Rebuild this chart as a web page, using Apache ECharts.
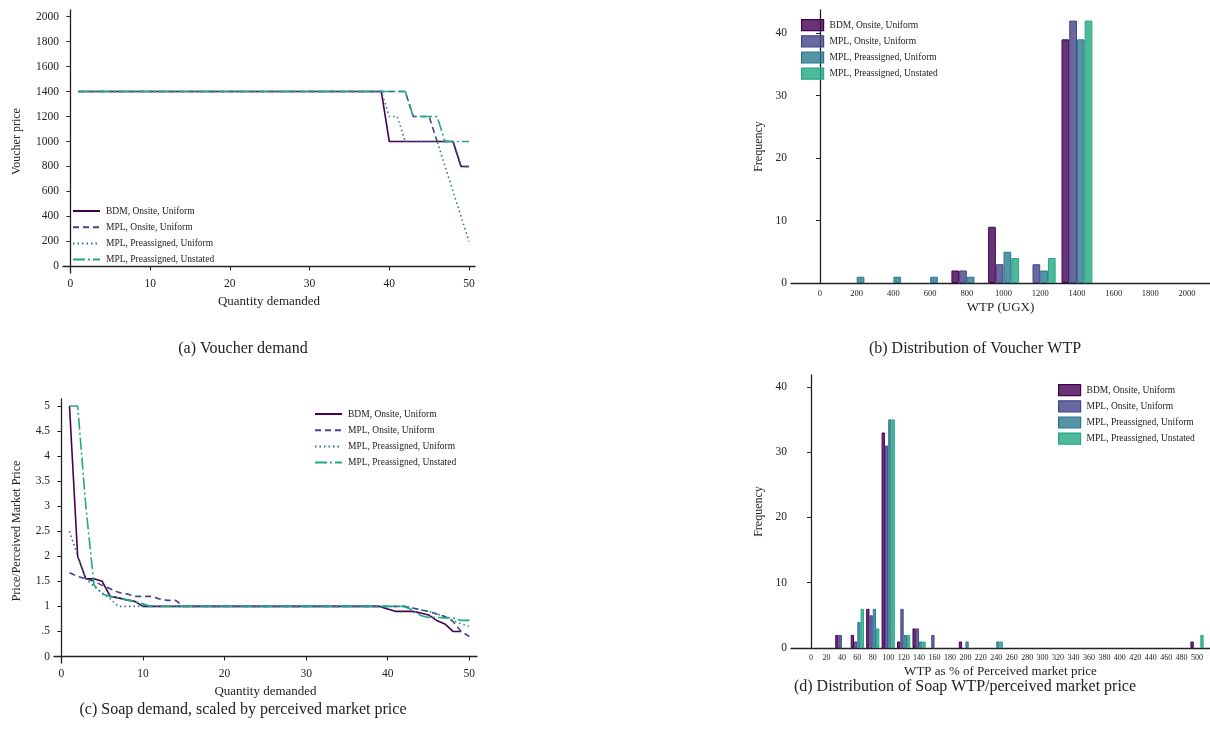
<!DOCTYPE html>
<html>
<head>
<meta charset="utf-8">
<script src="https://cdn.jsdelivr.net/npm/echarts@6/dist/echarts.min.js"></script>
<style>
  html, body { margin: 0; padding: 0; background: #fff; }
  #chart { width: 1210px; height: 748px; }
</style>
</head>
<body>
<div id="chart"></div>
<script>
// series names and colours (viridis)
const groups = ['BDM, Onsite, Uniform', 'MPL, Onsite, Uniform', 'MPL, Preassigned, Uniform', 'MPL, Preassigned, Unstated'];
const colors = ['#440154', '#414487', '#2A788E', '#22A884'];
const fills = ['rgba(68,1,84,0.8)', 'rgba(65,68,135,0.8)', 'rgba(42,120,142,0.8)', 'rgba(34,168,132,0.8)'];

// (a) voucher demand: price at each quantity 1..50
const voucherBdm = [1400,1400,1400,1400,1400,1400,1400,1400,1400,1400,1400,1400,1400,1400,1400,1400,1400,1400,1400,1400,
  1400,1400,1400,1400,1400,1400,1400,1400,1400,1400,1400,1400,1400,1400,1400,1400,1400,1400,1400,1000,
  1000,1000,1000,1000,1000,1000,1000,1000,800,800];
const voucherOnsite = [1400,1400,1400,1400,1400,1400,1400,1400,1400,1400,1400,1400,1400,1400,1400,1400,1400,1400,1400,1400,
  1400,1400,1400,1400,1400,1400,1400,1400,1400,1400,1400,1400,1400,1400,1400,1400,1400,1400,1400,1400,
  1400,1400,1200,1200,1200,1000,1000,1000,800,800];
const voucherUniform = [1400,1400,1400,1400,1400,1400,1400,1400,1400,1400,1400,1400,1400,1400,1400,1400,1400,1400,1400,1400,
  1400,1400,1400,1400,1400,1400,1400,1400,1400,1400,1400,1400,1400,1400,1400,1400,1400,1400,1400,1200,
  1200,1000,1000,1000,1000,1000,800,600,400,200];
const voucherUnstated = [1400,1400,1400,1400,1400,1400,1400,1400,1400,1400,1400,1400,1400,1400,1400,1400,1400,1400,1400,1400,
  1400,1400,1400,1400,1400,1400,1400,1400,1400,1400,1400,1400,1400,1400,1400,1400,1400,1400,1400,1400,
  1400,1400,1200,1200,1200,1200,1000,1000,1000,1000];

// (b) voucher WTP histogram
const voucherBins = [0, 200, 400, 600, 800, 1000, 1200, 1400, 1600, 1800, 2000];
const voucherHistBdm = [0, 0, 0, 0, 2, 9, 0, 39, 0, 0, 0];
const voucherHistOnsite = [0, 0, 0, 0, 2, 3, 3, 42, 0, 0, 0];
const voucherHistUniform = [0, 1, 1, 1, 1, 5, 2, 39, 0, 0, 0];
const voucherHistUnstated = [0, 0, 0, 0, 0, 4, 4, 42, 0, 0, 0];

// (c) soap demand, price / perceived market price, quantity 1..n
const soapBdm = [5, 2, 1.55, 1.55, 1.5, 1.2, 1.17, 1.13, 1.1, 1,
  1, 1, 1, 1, 1, 1, 1, 1, 1, 1, 1, 1, 1, 1, 1, 1, 1, 1, 1, 1, 1, 1, 1, 1, 1, 1, 1, 1, 1,
  0.95, 0.9, 0.9, 0.9, 0.87, 0.83, 0.72, 0.65, 0.5, 0.5];
const soapOnsite = [1.67, 1.6, 1.55, 1.5, 1.42, 1.35, 1.28, 1.25, 1.2, 1.2, 1.2, 1.15, 1.12, 1.12, 1,
  1, 1, 1, 1, 1, 1, 1, 1, 1, 1, 1, 1, 1, 1, 1, 1, 1, 1, 1, 1, 1, 1, 1, 1, 1, 1, 1,
  0.97, 0.93, 0.9, 0.85, 0.8, 0.7, 0.5, 0.4];
const soapUniform = [2.5, 2, 1.55, 1.4, 1.27, 1.15, 1,
  1, 1, 1, 1, 1, 1, 1, 1, 1, 1, 1, 1, 1, 1, 1, 1, 1, 1, 1, 1, 1, 1, 1, 1, 1, 1, 1, 1, 1, 1, 1, 1, 1, 1, 1,
  0.97, 0.93, 0.9, 0.85, 0.8, 0.72, 0.65, 0.6];
const soapUnstated = [5, 5, 3, 1.43, 1.25, 1.2, 1.17, 1.13, 1.1, 1.05,
  1, 1, 1, 1, 1, 1, 1, 1, 1, 1, 1, 1, 1, 1, 1, 1, 1, 1, 1, 1, 1, 1, 1, 1, 1, 1, 1, 1, 1, 1, 1, 1,
  0.93, 0.82, 0.78, 0.78, 0.77, 0.77, 0.72, 0.72];

// (d) soap WTP as % of perceived market price
const soapBins = [0, 20, 40, 60, 80, 100, 120, 140, 160, 180, 200, 220, 240, 260, 280, 300,
  320, 340, 360, 380, 400, 420, 440, 460, 480, 500];
const soapHistBdm = [0,0,2,2,6,33,1,3,0,0,1,0,0,0,0,0,0,0,0,0,0,0,0,0,0,1];
const soapHistOnsite = [0,0,2,1,5,31,6,3,2,0,0,0,0,0,0,0,0,0,0,0,0,0,0,0,0,0];
const soapHistUniform = [0,0,0,4,6,35,2,1,0,0,1,0,1,0,0,0,0,0,0,0,0,0,0,0,0,0];
const soapHistUnstated = [0,0,0,6,3,35,2,1,0,0,0,0,1,0,0,0,0,0,0,0,0,0,0,0,0,2];

const font = 'Liberation Serif, DejaVu Serif, serif';
const ink = '#222';
const dashes = ['solid', [6, 4], [1.5, 3], [12, 3, 2, 3]];
const plain = v => String(v);

const demandLine = (name, ys, idx, axis) => ({
  name: name + '#' + axis,
  type: 'line',
  xAxisIndex: axis,
  yAxisIndex: axis,
  symbol: 'none',
  data: ys.map((y, i) => [i + 1, y]),
  color: colors[idx],
  lineStyle: { width: 1.6, color: colors[idx], type: dashes[idx] }
});

const histBars = (name, bins, counts, idx, axis, width) => ({
  name: name + '#' + axis,
  type: 'bar',
  xAxisIndex: axis,
  yAxisIndex: axis,
  barWidth: width,
  barGap: '0%',
  data: bins.map((b, i) => [b, counts[i]]).filter(d => d[1] > 0),
  itemStyle: { color: fills[idx], borderColor: colors[idx], borderWidth: 1 }
});

const axisLine = { show: true, lineStyle: { color: ink, width: 1.3 } };
const tick = (show, vals) => ({ show: show, length: 4, lineStyle: { color: ink }, customValues: vals });

const xAxisOf = (grid, min, max, vals, name, gap, size, showTick) => ({
  type: 'value', gridIndex: grid, min: min, max: max,
  axisLine: axisLine, axisTick: tick(showTick, vals), splitLine: { show: false },
  axisLabel: { customValues: vals, color: ink, fontFamily: font, fontSize: size, margin: showTick ? 5 : 6, formatter: plain },
  name: name, nameLocation: 'middle', nameGap: gap,
  nameTextStyle: { color: ink, fontFamily: font, fontSize: 13 }
});

const yAxisOf = (grid, min, max, vals, name, gap, fmt) => ({
  type: 'value', gridIndex: grid, min: min, max: max,
  axisLine: axisLine, axisTick: tick(true, vals), splitLine: { show: false },
  axisLabel: { customValues: vals, color: ink, fontFamily: font, fontSize: 11.5, margin: 4, formatter: fmt || plain },
  name: name, nameLocation: 'middle', nameGap: gap, nameRotate: 90,
  nameTextStyle: { color: ink, fontFamily: font, fontSize: 12 }
});

const legendOf = (axis, left, top, bar) => {
  const lg = {
    orient: 'vertical', left: left, top: top, padding: 0,
    itemWidth: bar ? 22 : 27, itemHeight: bar ? 11 : 10, itemGap: bar ? 4 : 6.2,
    data: groups.map(g => g + '#' + axis),
    formatter: n => n.split('#')[0],
    textStyle: { color: ink, fontFamily: font, fontSize: 9.5, padding: [0, 0, 0, 1] },
    selectedMode: false
  };
  if (bar) {
    lg.icon = 'rect';
    lg.itemStyle = { borderWidth: 1.2 };
  } else {
    lg.itemStyle = { opacity: 0 };
  }
  return lg;
};

const chart = echarts.init(document.getElementById('chart'));

const voucherDemand = [voucherBdm, voucherOnsite, voucherUniform, voucherUnstated];
const voucherHist = [voucherHistBdm, voucherHistOnsite, voucherHistUniform, voucherHistUnstated];
const soapDemand = [soapBdm, soapOnsite, soapUniform, soapUnstated];
const soapHist = [soapHistBdm, soapHistOnsite, soapHistUniform, soapHistUnstated];

const series = [];
groups.forEach((g, i) => series.push(demandLine(g, voucherDemand[i], i, 0)));
groups.forEach((g, i) => series.push(histBars(g, voucherBins, voucherHist[i], i, 1, 7.7)));
groups.forEach((g, i) => series.push(demandLine(g, soapDemand[i], i, 2)));
groups.forEach((g, i) => series.push(histBars(g, soapBins, soapHist[i], i, 3, 3.3)));

const caption = (text, x, y) => ({
  type: 'text', x: x, y: y,
  style: { text: text, fill: ink, font: '16px ' + font, textAlign: 'center', textVerticalAlign: 'middle' }
});

const options = {
  backgroundColor: '#fff',
  animation: false,
  grid: [
    { left: 63, top: 10, width: 412, height: 263 },
    { left: 791, top: 10, width: 419, height: 273 },
    { left: 54, top: 399, width: 423, height: 264 },
    { left: 791, top: 375, width: 419, height: 273 }
  ],
  xAxis: [
    xAxisOf(0, -0.93, 50.75, [0, 10, 20, 30, 40, 50], 'Quantity demanded', 22, 11.5, true),
    xAxisOf(1, -158, 2125, voucherBins, 'WTP (UGX)', 18, 8.5, false),
    xAxisOf(2, -0.9, 50.94, [0, 10, 20, 30, 40, 50], 'Quantity demanded', 22, 11.5, true),
    xAxisOf(3, -25.9, 516.8, soapBins, 'WTP as % of Perceived market price', 17, 8, false)
  ],
  yAxis: [
    yAxisOf(0, -53, 2053, [0, 200, 400, 600, 800, 1000, 1200, 1400, 1600, 1800, 2000], 'Voucher price', 40),
    yAxisOf(1, 0, 43.7, [0, 10, 20, 30, 40], 'Frequency', 26),
    yAxisOf(2, -0.13, 5.14, [0, 0.5, 1, 1.5, 2, 2.5, 3, 3.5, 4, 4.5, 5], 'Price/Perceived Market Price', 31,
      v => (v > 0 && v < 1) ? String(v).replace(/^0/, '') : String(v)),
    yAxisOf(3, 0, 41.8, [0, 10, 20, 30, 40], 'Frequency', 26)
  ],
  legend: [
    legendOf(0, 72, 206, false),
    legendOf(1, 801, 19, true),
    legendOf(2, 314, 409, false),
    legendOf(3, 1058, 384, true)
  ],
  graphic: [
    caption('(a) Voucher demand', 243, 349),
    caption('(b) Distribution of Voucher WTP', 975, 349),
    caption('(c) Soap demand, scaled by perceived market price', 243, 710),
    caption('(d) Distribution of Soap WTP/perceived market price', 965, 687)
  ],
  series: series
};

chart.setOption(options);
</script>
</body>
</html>
